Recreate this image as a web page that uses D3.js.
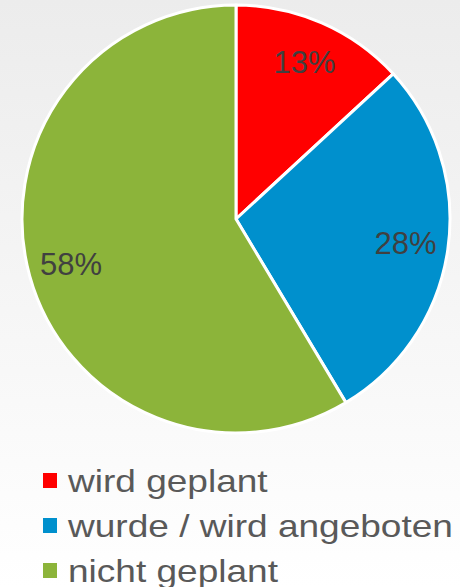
<!DOCTYPE html>
<html>
<head>
<meta charset="utf-8">
<style>
  body { margin: 0; }
  #chart { width: 460px; height: 587px; }
</style>
</head>
<body>
<div id="chart"></div>
<script src="https://d3js.org/d3.v7.min.js"></script>
<script>
// data
var categories = ["wird geplant", "wurde / wird angeboten", "nicht geplant"];
var values = [13, 28, 58];
var labels = ["13%", "28%", "58%"];
var colors = ["#ff0000", "#0090cd", "#8cb43a"];

var width = 460, height = 587;
var cx = 236, cy = 219, radius = 214;

var svg = d3.select("#chart").append("svg")
    .attr("width", width)
    .attr("height", height);

// background gradient
var grad = svg.append("defs").append("linearGradient")
    .attr("id", "bg")
    .attr("x1", 0).attr("y1", 0).attr("x2", 0).attr("y2", 1);
grad.append("stop").attr("offset", "0%").attr("stop-color", "#ececec");
grad.append("stop").attr("offset", "100%").attr("stop-color", "#ffffff");

svg.append("rect")
    .attr("width", width)
    .attr("height", height)
    .attr("fill", "url(#bg)");

var pie = d3.pie().sort(null).value(function(d) { return d; });
var arc = d3.arc().innerRadius(0).outerRadius(radius);
var labelArc = d3.arc().innerRadius(radius * 0.8).outerRadius(radius * 0.8);

var g = svg.append("g")
    .attr("transform", "translate(" + cx + "," + cy + ")");

var arcs = pie(values);

g.selectAll("path")
    .data(arcs)
  .enter().append("path")
    .attr("d", arc)
    .attr("fill", function(d, i) { return colors[i]; })
    .attr("stroke", "#ffffff")
    .attr("stroke-width", 3)
    .attr("stroke-linejoin", "round");

g.selectAll("text")
    .data(arcs)
  .enter().append("text")
    .attr("transform", function(d) { return "translate(" + labelArc.centroid(d) + ")"; })
    .attr("text-anchor", "middle")
    .attr("dy", "0.35em")
    .style("font-family", "'Liberation Sans', Arial, sans-serif")
    .style("font-size", "31px")
    .style("fill", "#404040")
    .text(function(d, i) { return labels[i]; });

// legend (text in the reference is stretched wide)
var legend = svg.append("g")
    .attr("transform", "translate(43,0)");

var rows = legend.selectAll("g")
    .data(categories)
  .enter().append("g")
    .attr("transform", function(d, i) { return "translate(0," + (492 + i * 45) + ")"; });

rows.append("rect")
    .attr("x", 0)
    .attr("y", -19)
    .attr("width", 14)
    .attr("height", 15)
    .attr("fill", function(d, i) { return colors[i]; });

rows.append("text")
    .attr("transform", "translate(25,0) scale(1.195,1)")
    .style("font-family", "'Liberation Sans', Arial, sans-serif")
    .style("font-size", "31px")
    .style("fill", "#595959")
    .text(function(d) { return d; });
</script>
</body>
</html>
